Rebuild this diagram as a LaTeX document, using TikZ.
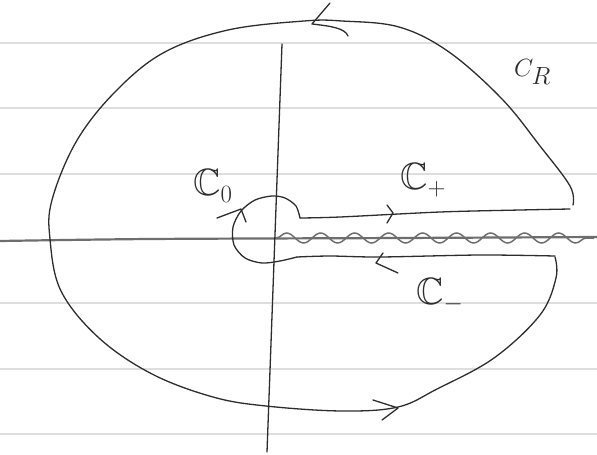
\documentclass[tikz,border=0pt]{standalone}
\usepackage{amsmath,amssymb}
\usepackage{xcolor}
\usepackage{tikz}
\usetikzlibrary{decorations.pathmorphing}
\definecolor{ink}{RGB}{45,45,45}
\definecolor{rule}{RGB}{222,222,222}
\definecolor{axisgray}{RGB}{110,110,110}
\tikzset{
  ruled/.style  = {draw=rule, line width=1.3pt},
  pen/.style    = {draw=ink, line width=1.3pt, line cap=round, line join=round},
  realax/.style = {draw=axisgray, line width=2.2pt, line cap=round},
  cut/.style    = {draw=axisgray, line width=1.5pt, decorate,
                   decoration={snake, segment length=34pt, amplitude=5pt}},
  lbl/.style    = {inner sep=0pt, text=ink, font=\fontsize{38}{40}\selectfont},
}

\begin{document}
\begin{tikzpicture}[x=1pt, y=-1pt]
  \useasboundingbox (0,0) rectangle (597,455);
  % notebook rules
  \foreach \yy in {43,108,174,303,369,434}
    \draw[ruled] (0,\yy) -- (597,\yy);
  % axes
  \draw[realax] plot[smooth] coordinates {(0,241) (150,239) (400,238) (597,237)};
  \draw[pen] (282,44) -- (267,452);
  % branch cut
  \draw[cut] (276,238) -- (594,238);
  % contour end points
  \coordinate (aIn)  at (300,218);
  \coordinate (aOut) at (570,209);
  \coordinate (bOut) at (555,256);
  \coordinate (bIn)  at (297,257);
  \coordinate (rTop) at (573,205);
  \coordinate (rBot) at (555,257);
  % big circle C_R
  \draw[pen] plot[smooth, tension=0.6] coordinates {(rTop) (570,186) (540,146) (502,99)
    (449,52) (399,27) (342,21) (304,21) (228,30) (163,53) (114,93) (76,142) (52,200)
    (50,239) (61,291) (99,338) (152,374) (213,397) (266,406) (342,411) (398,407)
    (437,389) (494,358) (540,315) (556,278) (rBot)};
  % small circle C_0
  \draw[pen] plot[smooth] coordinates {(aIn) (296,206) (285,198) (272,196) (255,200)
    (241,211) (233,227) (234,245) (245,258) (262,263) (280,261) (bIn)};
  % upper and lower edges of the cut
  \draw[pen] plot[smooth] coordinates {(aIn) (340,217) (440,212) (520,210) (aOut)};
  \draw[pen] plot[smooth] coordinates {(bOut) (480,255) (380,257) (330,256) (bIn)};
  % hand-drawn arrow heads
  \draw[pen] (330,3) -- (312,24) .. controls (330,26) and (345,28) .. (348,36);
  \draw[pen] (373,400) -- (398,408) -- (382,420);
  \draw[pen] (387,205) -- (393,213) -- (387,223);
  \draw[pen] (383,253) -- (376,263) -- (398,273);
  \draw[pen] (217,218) -- (241,209) -- (246,222);
  % labels
  \node[lbl, anchor=west] (co)     at (193,186) {$\mathbb{C}_0$};
  \node[lbl, anchor=west] (cplus)  at (400,180) {$\mathbb{C}_+$};
  \node[lbl, anchor=west] (cminus) at (416,295) {$\mathbb{C}_-$};
  \node[lbl, anchor=west, font=\fontsize{32}{34}\selectfont] (cr) at (514,72)
    {$C_{\textstyle R}$};
\end{tikzpicture}
\end{document}
